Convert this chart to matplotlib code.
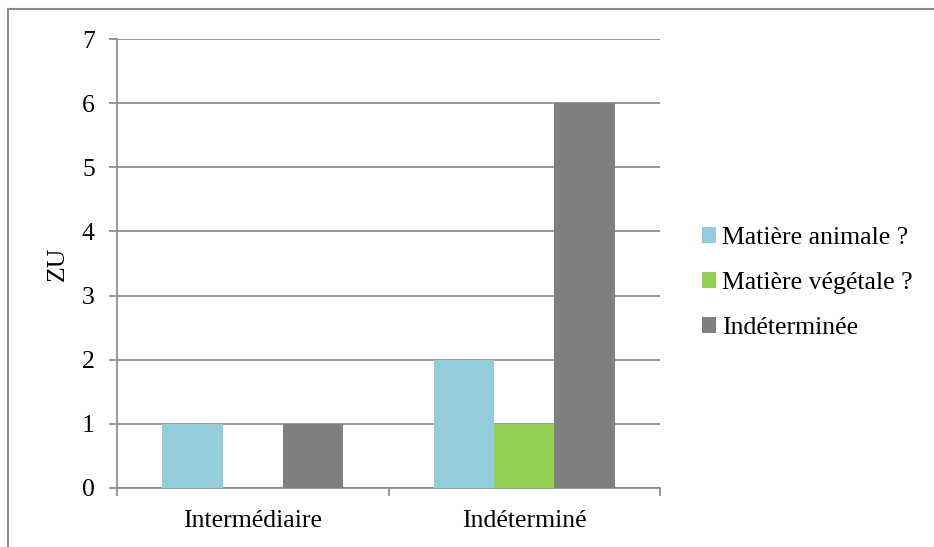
import numpy as np
import matplotlib
matplotlib.use('Agg')
import matplotlib.pyplot as plt
from matplotlib.lines import Line2D

plt.rcParams['font.family'] = ['Liberation Serif', 'DejaVu Serif']

categories = ['Intermédiaire', 'Indéterminé']
series = ['Matière animale ?', 'Matière végétale ?', 'Indéterminée']
values = {
    'Matière animale ?': [1, 2],
    'Matière végétale ?': [0, 1],
    'Indéterminée': [1, 6],
}
colors = ['#93CDDD', '#92D050', '#7F7F7F']

fs = 18.5

fig = plt.figure(figsize=(9.34, 5.47), dpi=100)
ax = fig.add_axes([0.1253, 0.1079, 0.5814, 0.8208])

x = np.arange(len(categories))
w = 1 / 4.5
for i, (name, c) in enumerate(zip(series, colors)):
    ax.bar(x + (i - 1) * w, values[name], width=w, color=c, label=name, zorder=3)

grid_c = '#868686'
ax.set_ylim(0, 7)
ax.set_xlim(-0.5, 1.5)
ax.set_yticks(range(0, 8))
ax.yaxis.grid(True, color=grid_c, linewidth=1.2, zorder=0)
ax.set_axisbelow(True)

for s in ['top', 'right']:
    ax.spines[s].set_visible(False)
for s in ['left', 'bottom']:
    ax.spines[s].set_color(grid_c)
    ax.spines[s].set_linewidth(1.2)

ax.set_xticks(x)
ax.set_xticklabels(categories)
ax.set_xticks([-0.5, 0.5, 1.5], minor=True)
ax.tick_params(axis='x', which='major', length=0, pad=16, labelsize=fs)
ax.tick_params(axis='x', which='minor', length=6, width=1.2, color=grid_c)
ax.tick_params(axis='y', length=6, width=1.2, color=grid_c, pad=10, labelsize=fs)

ax.set_ylabel('ZU', fontsize=fs)
ax.yaxis.set_label_coords(-0.088, 0.5)

ax.legend(loc='center left', bbox_to_anchor=(702 / 934, 1 - 283 / 547),
          bbox_transform=fig.transFigure, frameon=False, fontsize=fs,
          handlelength=0.55, handleheight=0.55, handletextpad=0.23,
          labelspacing=0.9, borderpad=0, borderaxespad=0)

# outer chart border (top and left only visible)
fig.add_artist(Line2D([8 / 934, 8 / 934], [0, 1 - 9 / 547], color='#8C8C8C',
                      linewidth=1.5, transform=fig.transFigure))
fig.add_artist(Line2D([8 / 934, 1], [1 - 9 / 547, 1 - 9 / 547], color='#8C8C8C',
                      linewidth=1.5, transform=fig.transFigure))

fig.savefig('out.png', dpi=100)
